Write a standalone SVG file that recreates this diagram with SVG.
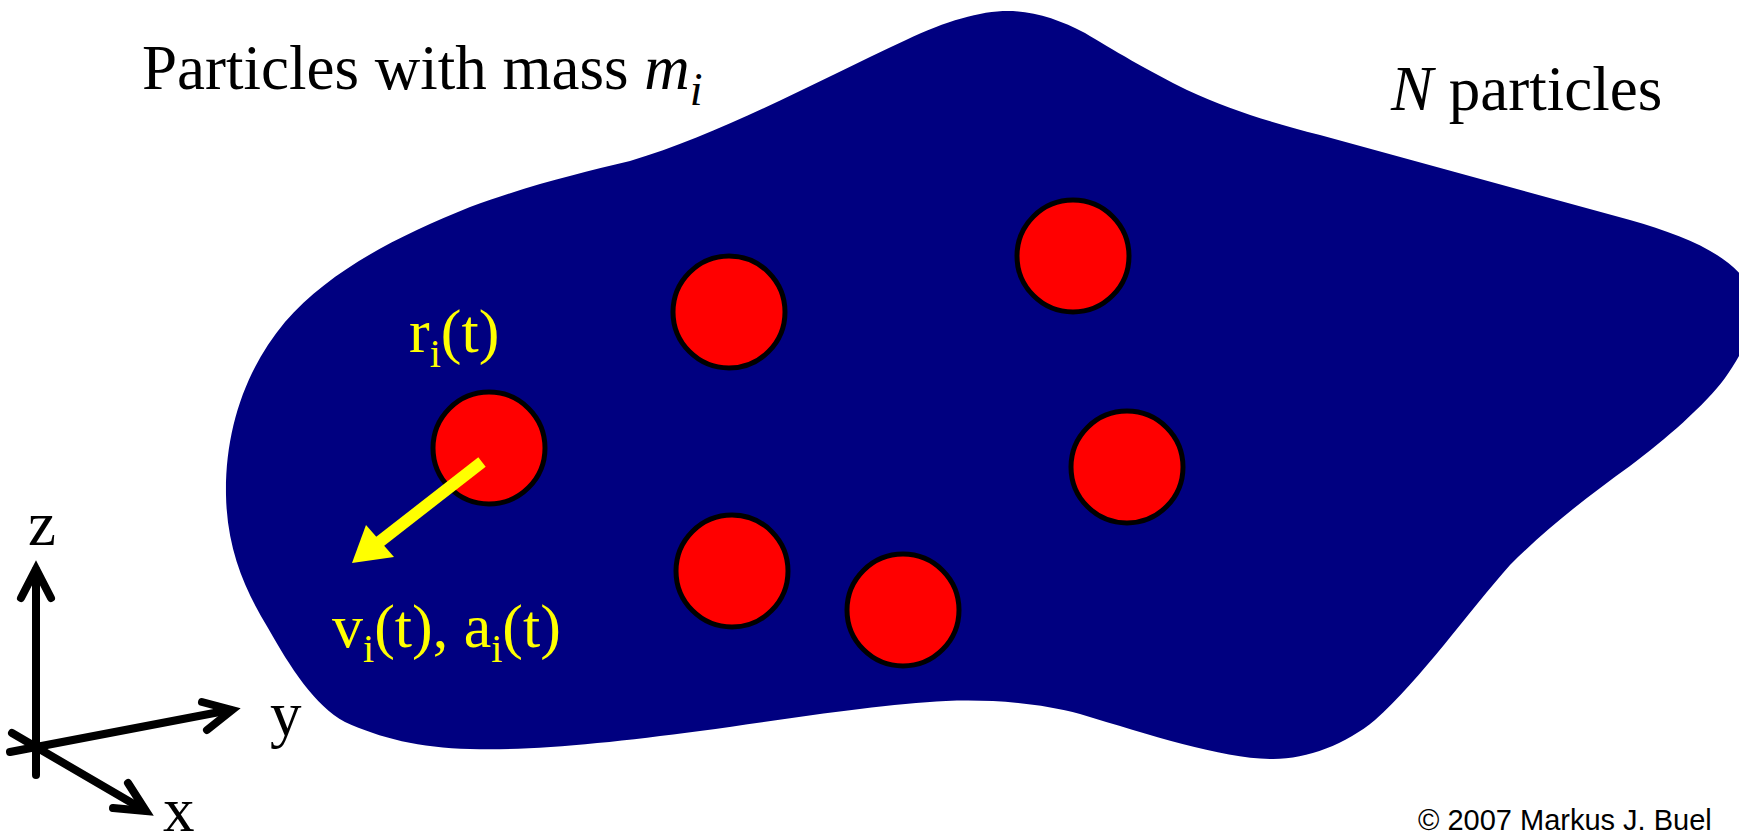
<svg xmlns="http://www.w3.org/2000/svg" width="1739" height="833" viewBox="0 0 1739 833">
<style>
.serif{font-family:"Liberation Serif","Times New Roman",serif;}
.lbl{font-size:63px;fill:#000;}
.ylw{font-size:62px;fill:#FFFF00;}
.particle{fill:#FF0000;stroke:#000;stroke-width:5;}
.axis{stroke:#000;stroke-width:8;fill:none;stroke-linecap:round;stroke-linejoin:miter;}
</style>
<rect width="1739" height="833" fill="#FFFFFF"/>
<g id="domain">
<path fill="#000080" d="M630,161 C720,134 816,82 906,40 C946,21 980,11 1008,11 C1035,11 1060,20 1085,33 C1110,48 1150,72 1187,90 C1230,110 1270,122 1320,135 L1630,220 C1690,237 1738,258 1752,293 C1760,318 1746,348 1725,378 C1705,405 1665,440 1630,466 C1590,495 1550,525 1510,565 C1470,610 1420,680 1375,720 C1345,745 1305,760 1270,759 C1220,758 1150,735 1080,714 C1040,703 990,699 946,701 C880,704 780,720 700,731 C610,743 530,751 470,749 C420,748 380,738 345,722 C315,706 290,667 268,628 C245,590 227,550 226,495 C225,430 245,370 285,322 C330,270 400,235 470,207 C530,185 580,173 630,161 Z"/>
</g>
<g id="particles">
<circle id="p1" class="particle" cx="729" cy="312" r="56"/>
<circle id="p2" class="particle" cx="1073" cy="256" r="56"/>
<circle id="p3" class="particle" cx="1127" cy="467" r="56"/>
<circle id="p4" class="particle" cx="732" cy="571" r="56"/>
<circle id="p5" class="particle" cx="903" cy="610" r="56"/>
<circle id="pi" class="particle" cx="489" cy="448" r="56"/>
</g>
<g id="connectors">
<g id="velocity-arrow">
<line x1="482" y1="462" x2="378" y2="543" stroke="#FFFF00" stroke-width="12"/>
<polygon points="352,563 366,525 394,557" fill="#FFFF00"/>
</g>
<g id="axes">
<line class="axis" x1="36" y1="775" x2="36" y2="570"/>
<polyline class="axis" points="21,598 36,569 51,598"/>
<line class="axis" x1="10" y1="752" x2="230" y2="710"/>
<polyline class="axis" points="202,702 232,710 207,730"/>
<line class="axis" x1="12" y1="733" x2="144" y2="810"/>
<polyline class="axis" points="128,783 146,811 113,808"/>
</g>
</g>
<g id="labels">
<text class="serif lbl" x="142" y="89">Particles with mass <tspan font-style="italic">m</tspan><tspan font-style="italic" font-size="46" dy="16">i</tspan></text>
<text class="serif lbl" x="1391" y="110"><tspan font-style="italic">N</tspan> particles</text>
<text class="serif ylw" x="409" y="352">r<tspan font-size="40" dy="15">i</tspan><tspan dy="-15">(t)</tspan></text>
<text class="serif ylw" x="332" y="647">v<tspan font-size="40" dy="15">i</tspan><tspan dy="-15">(t), a</tspan><tspan font-size="40" dy="15">i</tspan><tspan dy="-15">(t)</tspan></text>
<text class="serif lbl" x="28" y="545">z</text>
<text class="serif lbl" x="270" y="735">y</text>
<text class="serif lbl" x="163" y="831">x</text>
<text x="1418" y="830" font-family="'Liberation Sans',Arial,sans-serif" font-size="29" fill="#000">© 2007 Markus J. Buel</text>
</g>
</svg>
